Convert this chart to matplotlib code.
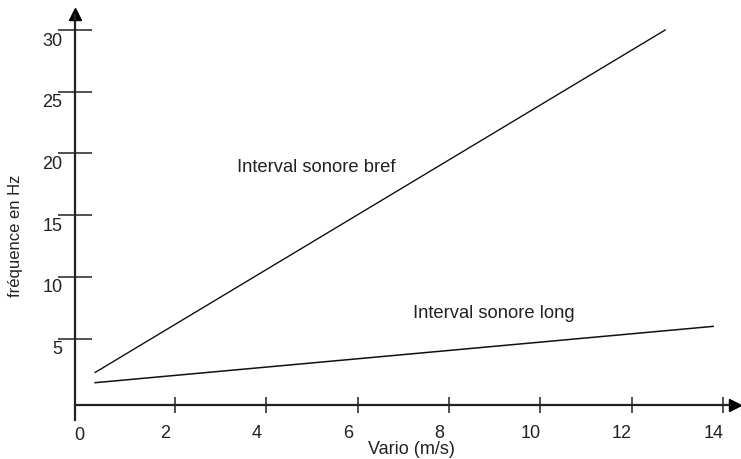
import matplotlib.pyplot as plt
import matplotlib.transforms as mtransforms

plt.rcParams['font.family'] = ['Liberation Sans', 'DejaVu Sans']

# Données
vario_bref = [0.25, 12.73]
freq_bref = [2.27, 30.0]
vario_long = [0.25, 13.78]
freq_long = [1.44, 6.0]

x_ticks = [2, 4, 6, 8, 10, 12, 14]
y_ticks = [5, 10, 15, 20, 25, 30]

fig = plt.figure(figsize=(7.41, 4.59), dpi=100)
ax = fig.add_axes([0, 0, 1, 1])
ax.set_xlim(-1.833, 14.39)
ax.set_ylim(-4.74, 32.43)

ax.plot(vario_bref, freq_bref, color='#111111', lw=1.0)
ax.plot(vario_long, freq_long, color='#111111', lw=1.1)

# Axes en croix avec flèches
x0, y0 = -0.19, -0.34
for s in ['top', 'right']:
    ax.spines[s].set_visible(False)
ax.spines['left'].set_position(('data', x0))
ax.spines['bottom'].set_position(('data', y0))
ax.spines['left'].set_bounds(-1.6, 31.2)
ax.spines['bottom'].set_bounds(x0, 14.15)
for s in ['left', 'bottom']:
    ax.spines[s].set_linewidth(1.6)
    ax.spines[s].set_color('#222222')
ax.plot(x0, 31.3, marker='^', color='black', ms=8, clip_on=False)
ax.plot(14.25, y0, marker='>', color='black', ms=8, clip_on=False)

ax.set_xticks(x_ticks)
ax.set_xticklabels([str(v) for v in x_ticks])
ax.set_yticks(y_ticks)
ax.set_yticklabels([str(v) for v in y_ticks])
ax.tick_params(axis='y', direction='inout', length=24, width=1.1, pad=0,
               labelsize=13, colors='#222222')
ax.tick_params(axis='x', direction='inout', length=12, width=1.1, pad=9,
               labelsize=13, colors='#222222')

# étiquettes décalées comme sur l'original
off_x = mtransforms.ScaledTranslation(-10 / 100, 0, fig.dpi_scale_trans)
for lab in ax.get_xticklabels():
    lab.set_transform(lab.get_transform() + off_x)
off_y = mtransforms.ScaledTranslation(4 / 100, -9 / 100, fig.dpi_scale_trans)
for lab in ax.get_yticklabels():
    lab.set_transform(lab.get_transform() + off_y)

# Label "0" à l'origine
ax.text(-0.1, -2.85, '0', ha='center', va='center', fontsize=13, color='#222222')

fig.text(16 / 741, 1 - 236 / 459, 'fréquence en Hz', rotation=90,
         ha='center', va='center', fontsize=12, color='#222222')
fig.text(411 / 741, 1 - 450 / 459, 'Vario (m/s)', ha='center', va='center',
         fontsize=13, color='#222222')

ax.text(3.36, 18.9, 'Interval sonore bref', fontsize=13.2, color='#222222',
        ha='left', va='center')
ax.text(7.2, 7.05, 'Interval sonore long', fontsize=13.2, color='#222222',
        ha='left', va='center')

fig.savefig('out.png', dpi=100)
